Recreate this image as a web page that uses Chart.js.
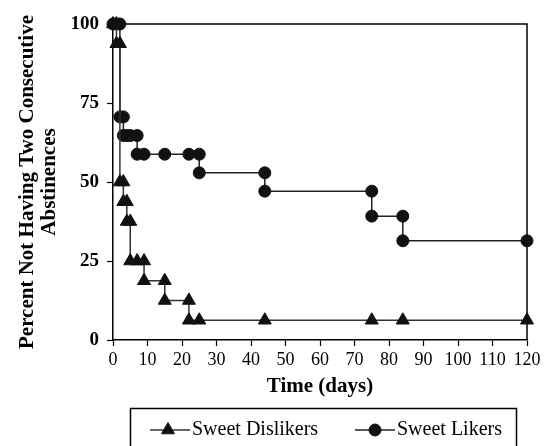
<!DOCTYPE html>
<html><head><meta charset="utf-8">
<script src="https://cdn.jsdelivr.net/npm/chart.js@4"></script>
<style>html,body{margin:0;padding:0;background:#fff}#wrap{width:547px;height:446px;position:relative}</style>
</head><body><div id="wrap"><canvas id="c" width="547" height="446"></canvas></div>
<script>
// ---- data ----
const seriesNames = ['Sweet Dislikers', 'Sweet Likers'];
const dislikerDays = [0,1,1,2,2,3,3,4,4,5,5,7,9,9,15,15,22,22,25,44,75,84,120];
const dislikerPct  = [100,100,93.75,93.75,50,50,43.75,43.75,37.5,37.5,25,25,25,18.75,18.75,12.5,12.5,6.25,6.25,6.25,6.25,6.25,6.25];
const likerDays = [0,1,2,2,3,3,4,5,7,7,9,15,22,25,25,44,44,75,75,84,84,120];
const likerPct  = [100,100,100,70.6,70.6,64.7,64.7,64.7,64.7,58.8,58.8,58.8,58.8,58.8,52.9,52.9,47.1,47.1,39.2,39.2,31.4,31.4];
const xTicks = [0,10,20,30,40,50,60,70,80,90,100,110,120];
const yTicks = [0,25,50,75,100];
const xTitle = 'Time (days)';
const yTitle = ['Percent Not Having Two Consecutive', 'Abstinences'];

const toPts = (xs, ys) => xs.map((x, i) => ({x: x, y: ys[i]}));
const FONT = '"Liberation Serif", "Times New Roman", serif';

const framePlugin = {
  id: 'frame',
  beforeDatasetsDraw(chart) {
    const {ctx, chartArea: a} = chart;
    ctx.save();
    ctx.strokeStyle = '#000';
    ctx.lineWidth = 1.5;
    ctx.beginPath();
    ctx.moveTo(a.left, a.top);
    ctx.lineTo(a.right, a.top);
    ctx.lineTo(a.right, a.bottom);
    ctx.stroke();
    ctx.restore();
  }
};

const legendPlugin = {
  id: 'boxLegend',
  afterDraw(chart) {
    const ctx = chart.ctx;
    ctx.save();
    ctx.strokeStyle = '#000';
    ctx.lineWidth = 1.5;
    ctx.strokeRect(130.5, 408.5, 386, 60);
    const items = [
      {sx: 150, mx: 168, tx: 192},
      {sx: 355, mx: 375, tx: 397}
    ];
    const cy = 430;
    chart.data.datasets.forEach((ds, i) => {
      const it = items[i];
      ctx.strokeStyle = ds.borderColor;
      ctx.lineWidth = ds.borderWidth;
      ctx.beginPath();
      ctx.moveTo(it.sx, cy);
      ctx.lineTo(it.sx + 40, cy);
      ctx.stroke();
      ctx.fillStyle = ds.pointBackgroundColor;
      ctx.strokeStyle = ds.pointBorderColor;
      ctx.lineWidth = 1;
      Chart.helpers.drawPoint(ctx, {pointStyle: ds.pointStyle, radius: ds.pointRadius, rotation: 0, borderWidth: 1}, it.mx, cy);
      ctx.fillStyle = '#000';
      ctx.font = '20px ' + FONT;
      ctx.textBaseline = 'middle';
      ctx.textAlign = 'left';
      ctx.fillText(ds.label, it.tx, cy);
    });
    ctx.restore();
  }
};

new Chart(document.getElementById('c'), {
  type: 'line',
  data: {
    datasets: [
      {
        label: seriesNames[0],
        data: toPts(dislikerDays, dislikerPct),
        borderColor: '#333', borderWidth: 1.5,
        pointStyle: 'triangle', pointRadius: 7.5,
        pointBackgroundColor: '#111', pointBorderColor: '#111', pointBorderWidth: 1,
        tension: 0, clip: false
      },
      {
        label: seriesNames[1],
        data: toPts(likerDays, likerPct),
        borderColor: '#222', borderWidth: 1.5,
        pointStyle: 'circle', pointRadius: 6,
        pointBackgroundColor: '#111', pointBorderColor: '#111', pointBorderWidth: 1,
        tension: 0, clip: false
      }
    ]
  },
  options: {
    animation: false,
    responsive: false,
    devicePixelRatio: 1,
    layout: {padding: {left: 0, right: 20, top: 24, bottom: 36}},
    plugins: {legend: {display: false}, tooltip: {enabled: false}},
    scales: {
      x: {
        type: 'linear', min: 0, max: 120,
        afterBuildTicks: s => { s.ticks = xTicks.map(v => ({value: v})); },
        afterFit: s => { s.height = 70; },
        grid: {drawOnChartArea: false, drawTicks: true, tickLength: 6, color: '#000', tickWidth: 1.2},
        border: {display: true, color: '#000', width: 1.5},
        ticks: {color: '#000', font: {family: FONT, size: 18}, padding: 3, maxRotation: 0, autoSkip: false},
        title: {display: true, text: xTitle, color: '#000',
          font: {family: FONT, size: 21, weight: 'bold', lineHeight: 1.05}, padding: {top: 0, bottom: 12}}
      },
      y: {
        min: 0, max: 100,
        afterBuildTicks: s => { s.ticks = yTicks.map(v => ({value: v})); },
        afterFit: s => { s.width = 113; },
        grid: {drawOnChartArea: false, drawTicks: true, tickLength: 6, color: '#000', tickWidth: 1.2},
        border: {display: true, color: '#000', width: 1.5},
        ticks: {color: '#000', font: {family: FONT, size: 19, weight: 'bold'}, padding: 8},
        title: {display: true, text: yTitle, color: '#000',
          font: {family: FONT, size: 21, weight: 'bold', lineHeight: 1.05}, padding: {top: 17, bottom: 0}}
      }
    }
  },
  plugins: [framePlugin, legendPlugin]
});
</script>
</body></html>
